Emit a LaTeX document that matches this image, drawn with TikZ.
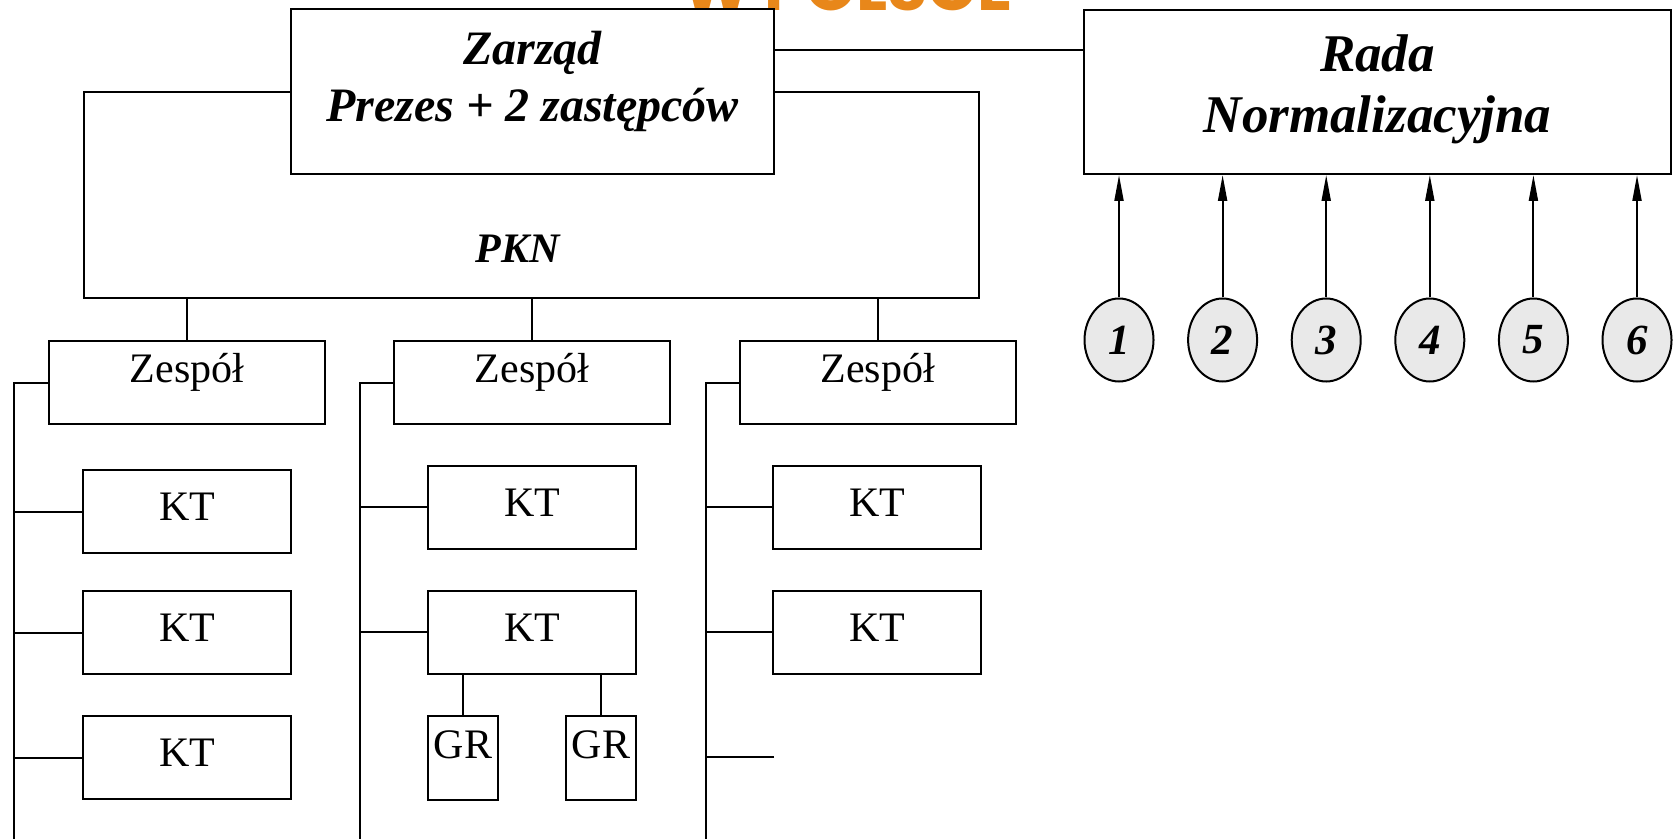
\documentclass[tikz,border=0pt]{standalone}
\usepackage{fontspec}
\setmainfont{Liberation Serif}
\newfontfamily\headfont{Poppins}
\usetikzlibrary{arrows.meta, positioning, calc, shapes.geometric}
\definecolor{HeadOrange}{RGB}{232, 135, 26}
\definecolor{BubbleGray}{RGB}{233, 233, 233}

\tikzset{
  box/.style={draw, line width=1pt, fill=white, inner sep=0pt},
  boardtext/.style={inner sep=0pt, anchor=base, font=\fontsize{24}{28}\selectfont\bfseries\itshape},
  counciltext/.style={boardtext, font=\fontsize{26.5}{30}\selectfont\bfseries\itshape},
  team/.style={box, minimum width=138pt, minimum height=41.5pt,
    font=\fontsize{21}{25}\selectfont, text height=15pt, text depth=15pt},
  tc/.style={box, minimum width=104pt, minimum height=41.5pt,
    font=\fontsize{21}{25}\selectfont, text height=14pt, text depth=5pt},
  wg/.style={box, minimum width=35pt, minimum height=42pt,
    font=\fontsize{21}{25}\selectfont, text height=15pt, text depth=15pt},
  member/.style={ellipse, draw, line width=1pt, fill=BubbleGray, inner sep=0pt,
    minimum width=34.5pt, minimum height=41.5pt, font=\fontsize{21.5}{25}\selectfont\bfseries\itshape},
  link/.style={line width=1pt},
  feed/.style={line width=1pt, -{Triangle[length=13pt, width=4.5pt]}}
}

\begin{document}
\begin{tikzpicture}[x=0.5pt, y=-0.5pt]
  \clip (0,0) rectangle (1673,839);

  % heading, only its foot shows
  \node[anchor=base west, inner sep=0pt, text=HeadOrange,
    font=\headfont\bfseries\fontsize{32.6}{36}\selectfont] (heading) at (682,11) {W POLSCE};

  % PKN frame with the board on top of it
  \node[box, minimum width=447.5pt, minimum height=103pt] (pkn) at (531.5,195) {};
  \node[inner sep=0pt, font=\fontsize{21}{24}\selectfont\bfseries\itshape] (pkntitle) at (517.5,249) {PKN};
  \node[box, minimum width=241.5pt, minimum height=82.5pt] (zarzad) at (532.5,91.5) {};
  \node[boardtext] (zarzad1) at (532.5,65) {Zarząd};
  \node[boardtext] (zarzad2) at (532.5,122) {Prezes + 2 zastępców};

  % standards council
  \node[box, minimum width=293.5pt, minimum height=82pt] (rada) at (1377.5,92) {};
  \node[counciltext] (rada1) at (1377.5,72) {Rada};
  \node[counciltext] (rada2) at (1377.5,133) {Normalizacyjna};
  \draw[link] ($(zarzad.north east)!.25!(zarzad.south east)$) coordinate (tie) -- (tie -| rada.west);

  % teams
  \node[team] (zespol1) at (187,382.5) {Zespół};
  \node[team] (zespol2) at (532,382.5) {Zespół};
  \node[team] (zespol3) at (877.5,382.5) {Zespół};
  \coordinate (spine1) at (14,845);
  \coordinate (spine2) at (360,845);
  \coordinate (spine3) at (706,845);
  \foreach \t in {1,2,3} {
    \draw[link] (zespol\t.north) -- (zespol\t.north |- pkn.south);
    \draw[link] (zespol\t.west) -| (spine\t);
  }

  % technical committees
  \node[tc] (kt11) at (187,511.5) {KT};
  \node[tc] (kt12) at (187,632.5) {KT};
  \node[tc] (kt13) at (187,757.5) {KT};
  \node[tc] (kt21) at (532,507) {KT};
  \node[tc] (kt22) at (532,632) {KT};
  \node[tc] (kt31) at (877,507) {KT};
  \node[tc] (kt32) at (877,632) {KT};
  \coordinate (kt33) at (774,757);
  \foreach \k/\s in {kt11/spine1, kt12/spine1, kt13/spine1, kt21/spine2, kt22/spine2, kt31/spine3, kt32/spine3}
    \draw[link] (\k.west) -- (\k.west -| \s);
  \draw[link] (kt33) -- (kt33 -| spine3);

  % working groups
  \node[wg] (gr1) at (463,758) {GR};
  \node[wg] (gr2) at (601,758) {GR};
  \foreach \g in {1,2}
    \draw[link] (gr\g.north) -- (gr\g.north |- kt22.south);

  % members feeding the council
  \foreach \i in {1,...,6} {
    \node[member] (m\i) at ({1119+103.6*(\i-1)},340) {\i};
    \draw[feed] (m\i.north) -- (m\i.north |- rada.south);
  }
\end{tikzpicture}
\end{document}
